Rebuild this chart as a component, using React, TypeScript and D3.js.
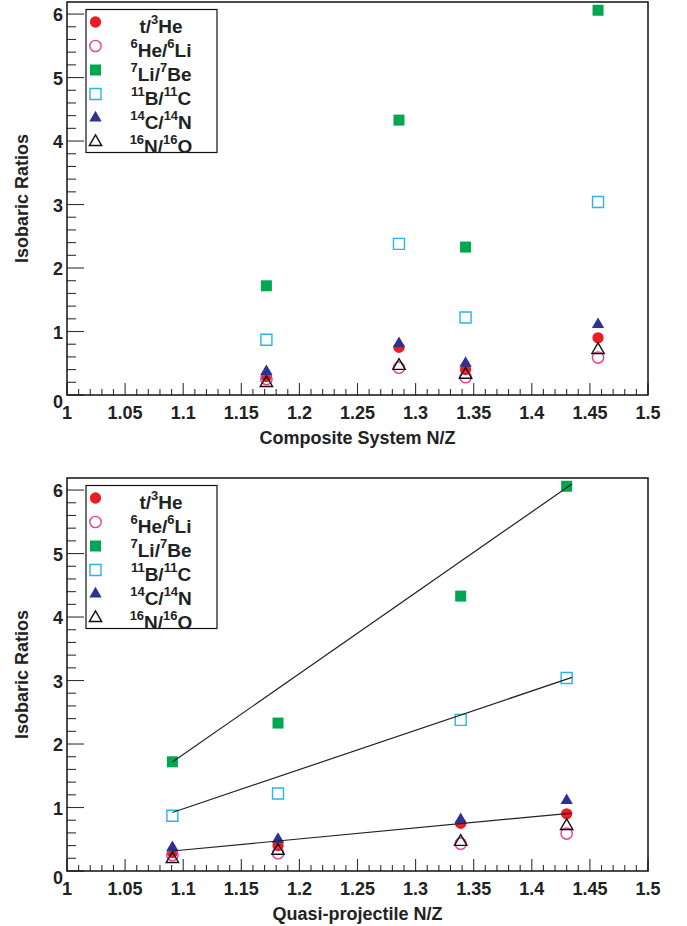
import React, { useEffect, useRef } from "react";
import * as d3 from "d3";

// legend labels, ^N marks a superscript mass number
const seriesLabels = ["t/^3He", "^6He/^6Li", "^7Li/^7Be", "^11B/^11C", "^14C/^14N", "^16N/^16O"];
const seriesColors = ["#ec1c24", "#e63c96", "#00a651", "#29b4ea", "#2e3192", "#111111"];
const seriesShapes = ["circle", "circle", "square", "square", "triangle", "triangle"];
const seriesFilled = [true, false, true, false, true, false];

// isobaric ratios, one value per system (same order in both panels)
const tHe3 = [0.29, 0.75, 0.4, 0.9];
const he6Li6 = [0.25, 0.43, 0.28, 0.59];
const li7Be7 = [1.72, 4.33, 2.33, 6.06];
const b11C11 = [0.87, 2.38, 1.22, 3.04];
const c14N14 = [0.37, 0.81, 0.5, 1.11];
const n16O16 = [0.19, 0.46, 0.32, 0.71];
const seriesValues = [tHe3, he6Li6, li7Be7, b11C11, c14N14, n16O16];

// N/Z of each system
const compositeNZ = [1.1716, 1.2857, 1.343, 1.457];
const quasiNZ = [1.0907, 1.3388, 1.1816, 1.43];

// linear fits drawn in the lower panel
const fitSeries = [2, 3, 0];
const fitSlopes = [12.74, 6.19, 1.739];
const fitIntercepts = [-12.18, -5.83, -1.582];
const fitRange = [1.0907, 1.4346];

const xTickLabels = ["1", "1.05", "1.1", "1.15", "1.2", "1.25", "1.3", "1.35", "1.4", "1.45", "1.5"];
const yTickLabels = ["0", "1", "2", "3", "4", "5", "6"];

const FONT = "'Liberation Sans', Arial, Helvetica, sans-serif";
const TEXT = "#222";

const App = () => {
  const ref = useRef<SVGSVGElement>(null);

  useEffect(() => {
    const svg = d3.select(ref.current);
    svg.selectAll("*").remove();

    const left = 67,
      right = 648,
      plotH = 393;

    const panels = [
      { top: 2, xs: compositeNZ, title: "Composite System N/Z", fits: false },
      { top: 478, xs: quasiNZ, title: "Quasi-projectile N/Z", fits: true },
    ];

    const x = d3.scaleLinear().domain([1, 1.5]).range([left, right]);

    panels.forEach((p) => {
      const bottom = p.top + plotH;
      const y = d3.scaleLinear().domain([0, 6.19]).range([bottom, p.top]);
      const g = svg.append("g");

      // x ticks
      const xMinor = d3.range(0, 51).map((i) => 1 + i * 0.01);
      g.selectAll(".xt")
        .data(xMinor)
        .enter()
        .append("line")
        .attr("x1", (d) => x(d))
        .attr("x2", (d) => x(d))
        .attr("y1", bottom)
        .attr("y2", (d, i) => bottom - (i % 5 === 0 ? 12 : 6))
        .attr("stroke", "#333")
        .attr("stroke-width", 1.1);

      // y ticks
      const yMinor = d3.range(0, 31).map((i) => i * 0.2);
      g.selectAll(".yt")
        .data(yMinor)
        .enter()
        .append("line")
        .attr("x1", left)
        .attr("x2", (d, i) => left + (i % 5 === 0 ? 17 : 9))
        .attr("y1", (d) => y(d))
        .attr("y2", (d) => y(d))
        .attr("stroke", "#333")
        .attr("stroke-width", 1.1);

      // frame
      g.append("rect")
        .attr("x", left)
        .attr("y", p.top)
        .attr("width", right - left)
        .attr("height", plotH)
        .attr("fill", "none")
        .attr("stroke", "#111")
        .attr("stroke-width", 1.5);

      // tick labels
      g.selectAll(".xl")
        .data(xTickLabels)
        .enter()
        .append("text")
        .attr("x", (d) => x(+d))
        .attr("y", bottom + 23.5)
        .attr("text-anchor", "middle")
        .attr("font-family", FONT)
        .attr("font-weight", "bold")
        .attr("font-size", 18)
        .attr("fill", TEXT)
        .text((d) => d);

      g.selectAll(".yl")
        .data(yTickLabels)
        .enter()
        .append("text")
        .attr("x", 63)
        .attr("y", (d) => y(+d) + (+d === 0 ? 13 : 7))
        .attr("text-anchor", "end")
        .attr("font-family", FONT)
        .attr("font-weight", "bold")
        .attr("font-size", 18)
        .attr("fill", TEXT)
        .text((d) => d);

      // axis titles
      g.append("text")
        .attr("x", (left + right) / 2)
        .attr("y", bottom + 49)
        .attr("text-anchor", "middle")
        .attr("font-family", FONT)
        .attr("font-weight", "bold")
        .attr("font-size", 18)
        .attr("fill", TEXT)
        .text(p.title);

      g.append("text")
        .attr("transform", `translate(28,${p.top + plotH / 2}) rotate(-90)`)
        .attr("text-anchor", "middle")
        .attr("font-family", FONT)
        .attr("font-weight", "bold")
        .attr("font-size", 18)
        .attr("fill", TEXT)
        .text("Isobaric Ratios");

      // markers
      const symbolFor = (s: string) =>
        s === "circle"
          ? d3.symbol().type(d3.symbolCircle).size(100)
          : s === "square"
          ? d3.symbol().type(d3.symbolSquare).size(121)
          : d3.symbol().type(d3.symbolTriangle).size(66);

      seriesValues.forEach((vals, si) => {
        const filled = seriesFilled[si];
        g.selectAll(`.m${si}`)
          .data(vals)
          .enter()
          .append("path")
          .attr("d", symbolFor(seriesShapes[si]) as any)
          .attr("transform", (d, i) => `translate(${x(p.xs[i])},${y(d)})`)
          .attr("fill", filled ? seriesColors[si] : "none")
          .attr("stroke", filled ? "none" : seriesColors[si])
          .attr("stroke-width", 1.4);
      });

      // fit lines
      if (p.fits) {
        fitSeries.forEach((s, k) => {
          const line = d3
            .line<number>()
            .x((d) => x(d))
            .y((d) => y(fitIntercepts[k] + fitSlopes[k] * d));
          g.append("path")
            .attr("d", line(fitRange))
            .attr("fill", "none")
            .attr("stroke", "#222")
            .attr("stroke-width", 1.2);
        });
      }

      // legend
      const lg = g.append("g");
      lg.append("rect")
        .attr("x", 86)
        .attr("y", p.top + 7.5)
        .attr("width", 131)
        .attr("height", 143)
        .attr("fill", "white")
        .attr("stroke", "#111")
        .attr("stroke-width", 1.2);

      seriesLabels.forEach((lab, si) => {
        const ry = p.top + 20 + si * 24;
        const filled = seriesFilled[si];
        lg.append("path")
          .attr("d", symbolFor(seriesShapes[si]) as any)
          .attr("transform", `translate(95.5,${ry})`)
          .attr("fill", filled ? seriesColors[si] : "none")
          .attr("stroke", filled ? "none" : seriesColors[si])
          .attr("stroke-width", 1.4);

        const t = lg
          .append("text")
          .attr("x", 161)
          .attr("y", ry + 10.5)
          .attr("text-anchor", "middle")
          .attr("font-family", FONT)
          .attr("font-weight", "bold")
          .attr("font-size", 19)
          .attr("fill", TEXT);
        const parts = lab.split(/\^(\d+)/);
        let raised = false;
        parts.forEach((part, pi) => {
          if (part === "") return;
          const sup = pi % 2 === 1;
          const ts = t.append("tspan").text(part);
          if (sup) {
            ts.attr("font-size", 13).attr("dy", raised ? 0 : -8.5);
            raised = true;
          } else {
            if (raised) ts.attr("dy", 8.5);
            raised = false;
          }
        });
      });
    });
  }, []);

  return (
    <svg
      ref={ref}
      width={687}
      height={926}
      style={{ position: "absolute", left: 0, top: 0, background: "white" }}
    ></svg>
  );
};

export default App;
